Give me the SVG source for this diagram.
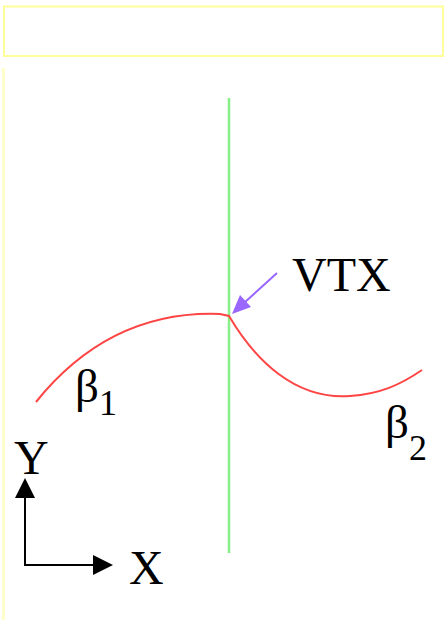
<svg xmlns="http://www.w3.org/2000/svg" width="448" height="620" viewBox="0 0 448 620">
<defs>
<style>
.t{font-family:"Liberation Serif","Times New Roman",serif;fill:#000}
</style>
<marker id="ah" markerWidth="10" markerHeight="10" refX="9" refY="5" orient="auto" markerUnits="userSpaceOnUse" viewBox="0 0 10 10"><path d="M0,0 L10,5 L0,10 z" fill="#000"/></marker>
</defs>
<rect width="448" height="620" fill="#fff"/>
<rect x="4" y="6.5" width="439" height="49.5" fill="none" stroke="#ffff99" stroke-width="2"/>
<line x1="3.5" y1="68" x2="3.5" y2="620" stroke="#ffffcc" stroke-width="3"/>
<g id="axis-line"><line x1="229" y1="98" x2="229" y2="553" stroke="#88ee88" stroke-width="2.5"/></g>
<g id="curve"><path d="M36,402 Q110,310 220,314 L229,316 C255,360 295,400 350,396 C380,394 400,385 422,370" fill="none" stroke="#ff4444" stroke-width="2"/></g>
<g id="connectors">
<line x1="277" y1="273" x2="244" y2="303" stroke="#9966ff" stroke-width="2"/>
<path d="M232,314 L240,295 L251,307 z" fill="#9966ff"/>
<line x1="25" y1="565" x2="25" y2="498" stroke="#000" stroke-width="2"/>
<path d="M25,478 L15,498 L35,498 z" fill="#000"/>
<line x1="24" y1="565" x2="93" y2="565" stroke="#000" stroke-width="2"/>
<path d="M113,565 L93,555 L93,575 z" fill="#000"/>
</g>
<g id="labels">
<text class="t" x="292" y="291" font-size="48">VTX</text>
<text class="t" x="75" y="402" font-size="47">β<tspan font-size="36" dy="13">1</tspan></text>
<text class="t" x="385" y="438" font-size="47">β<tspan font-size="36" dy="22">2</tspan></text>
<text class="t" x="14" y="474" font-size="48">Y</text>
<text class="t" x="129" y="584" font-size="48">X</text>
</g>
</svg>
